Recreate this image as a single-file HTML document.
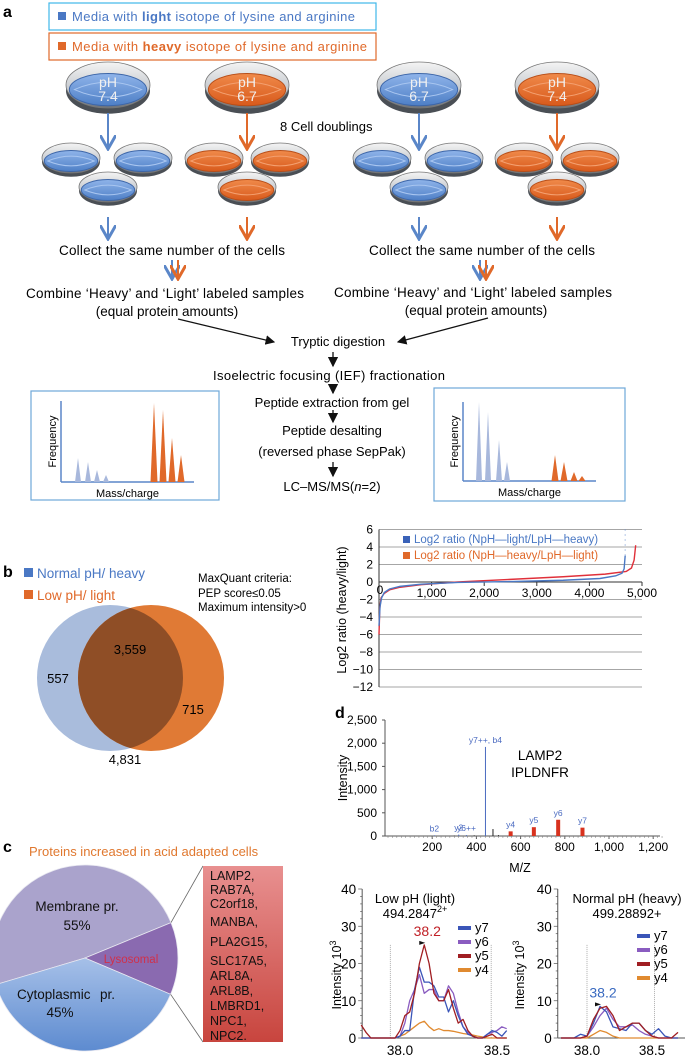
<!DOCTYPE html>
<html><head><meta charset="utf-8"><style>
html,body{margin:0;padding:0;background:#fff}
svg{display:block;font-family:"Liberation Sans",sans-serif}
</style></head><body>
<svg id="fig" width="685" height="1060" viewBox="0 0 685 1060" xmlns="http://www.w3.org/2000/svg">
<defs>
<linearGradient id="gBlue" x1="0" y1="0" x2="0" y2="1"><stop offset="0" stop-color="#8fb4ea"/><stop offset="1" stop-color="#4e7fc6"/></linearGradient>
<linearGradient id="gOr" x1="0" y1="0" x2="0" y2="1"><stop offset="0" stop-color="#f08a4a"/><stop offset="1" stop-color="#d85a1c"/></linearGradient>
<linearGradient id="gRim" x1="0" y1="0" x2="0" y2="1"><stop offset="0" stop-color="#f4f4f4"/><stop offset="0.6" stop-color="#c5c9ce"/><stop offset="1" stop-color="#6a6f75"/></linearGradient>
<linearGradient id="gBox" x1="0" y1="0" x2="0" y2="1"><stop offset="0" stop-color="#e89090"/><stop offset="1" stop-color="#c8453e"/></linearGradient>
<linearGradient id="gCyto" x1="0" y1="0" x2="0" y2="1"><stop offset="0" stop-color="#a6c0e8"/><stop offset="1" stop-color="#5d8bd0"/></linearGradient>
<marker id="ak" markerWidth="8" markerHeight="8" refX="7" refY="4" orient="auto"><path d="M0,0 L8,4 L0,8 z" fill="#111"/></marker>
<marker id="ab" markerWidth="8" markerHeight="8" refX="6" refY="4" orient="auto"><path d="M0,0 L7,4 L0,8" fill="none" stroke="#5a86c8" stroke-width="1.5"/></marker>
<marker id="ao" markerWidth="8" markerHeight="8" refX="6" refY="4" orient="auto"><path d="M0,0 L7,4 L0,8" fill="none" stroke="#e0692a" stroke-width="1.5"/></marker>
</defs>

<!-- panel a -->
<text x="3" y="17" font-size="16" font-weight="bold">a</text>
<rect x="49" y="3" width="327" height="27" fill="none" stroke="#3fb8e8" stroke-width="1.2"/>
<rect x="58" y="12" width="8" height="8" fill="#4a78c4"/>
<text x="72" y="21" font-size="13" fill="#4a78c4" textLength="283">Media with <tspan font-weight="bold">light</tspan> isotope of lysine and arginine</text>
<rect x="49" y="33" width="327" height="27" fill="none" stroke="#e0692a" stroke-width="1.2"/>
<rect x="58" y="42" width="8" height="8" fill="#e0692a"/>
<text x="72" y="51" font-size="13" fill="#e0692a" textLength="295">Media with <tspan font-weight="bold">heavy</tspan> isotope of lysine and arginine</text>
<g id="dishes"></g>
<text x="280" y="131" font-size="13">8 Cell doublings</text>
<text x="172" y="255" font-size="13.5" text-anchor="middle" textLength="226">Collect the same number of the cells</text>
<text x="482" y="255" font-size="13.5" text-anchor="middle" textLength="226">Collect the same number of the cells</text>
<text x="165" y="298" font-size="13.5" text-anchor="middle" textLength="278">Combine ‘Heavy’ and ‘Light’ labeled samples</text>
<text x="167" y="316" font-size="13.5" text-anchor="middle">(equal protein amounts)</text>
<text x="473" y="297" font-size="13.5" text-anchor="middle" textLength="278">Combine ‘Heavy’ and ‘Light’ labeled samples</text>
<text x="476" y="315" font-size="13.5" text-anchor="middle">(equal protein amounts)</text>
<line x1="178" y1="319" x2="274" y2="342" stroke="#111" stroke-width="1.2" marker-end="url(#ak)"/>
<line x1="488" y1="318" x2="398" y2="342" stroke="#111" stroke-width="1.2" marker-end="url(#ak)"/>
<g font-size="13" text-anchor="middle">
<text x="338" y="346">Tryptic digestion</text>
<text x="329" y="380" textLength="232">Isoelectric focusing (IEF) fractionation</text>
<text x="332" y="407">Peptide extraction from gel</text>
<text x="332" y="435">Peptide desalting</text>
<text x="332" y="456">(reversed phase SepPak)</text>
<text x="332" y="491">LC–MS/MS(<tspan font-style="italic">n</tspan>=2)</text>
</g>
<g stroke="#111" stroke-width="1.3">
<line x1="333" y1="352" x2="333" y2="366" marker-end="url(#ak)"/>
<line x1="333" y1="384" x2="333" y2="393" marker-end="url(#ak)"/>
<line x1="333" y1="410" x2="333" y2="422" marker-end="url(#ak)"/>
<line x1="333" y1="462" x2="333" y2="476" marker-end="url(#ak)"/>
</g>
<rect x="31" y="391" width="188" height="109" fill="none" stroke="#6ea8d8" stroke-width="1.2"/>
<rect x="434" y="388" width="191" height="113" fill="none" stroke="#6ea8d8" stroke-width="1.2"/>
<g id="msboxes"></g>

<!-- panel b -->
<text x="3" y="577" font-size="16" font-weight="bold">b</text>
<rect x="24" y="568" width="9" height="9" fill="#4a78c4"/>
<text x="37" y="578" font-size="13.5" fill="#4a78c4">Normal pH/ heavy</text>
<rect x="24" y="590" width="9" height="9" fill="#e0692a"/>
<text x="37" y="600" font-size="13.5" fill="#e0692a">Low pH/ light</text>
<g font-size="11.5">
<text x="198" y="582">MaxQuant criteria:</text>
<text x="198" y="597">PEP score≤0.05</text>
<text x="198" y="611">Maximum intensity&gt;0</text>
</g>
<g id="venn"></g>
<g id="log2chart"></g>

<!-- panel c -->
<text x="3" y="852" font-size="16" font-weight="bold">c</text>
<text x="29" y="856" font-size="13" fill="#e0782f">Proteins increased in acid adapted cells</text>
<g id="pie"></g>
<rect x="203" y="866" width="80" height="176" fill="url(#gBox)"/>
<g id="protlist" font-size="12.5" fill="#111"></g>

<!-- panel d -->
<text x="335" y="718" font-size="16" font-weight="bold">d</text>
<g id="spectrum"></g>
<g id="xicLeft"></g>
<g id="xicRight"></g>
</svg>
<script>
// ---------- data ----------
const dishPh = ["7.4","6.7","6.7","7.4"];
const dishMedia = ["light","heavy","light","heavy"];

const log2RankBlue = [0,20,50,100,200,400,800,1500,2500,3500,4200,4500,4620,4660,4680];
const log2ValBlue  = [-5,-2.8,-1.8,-1.2,-0.8,-0.5,-0.25,-0.05,0.05,0.2,0.4,0.7,1.0,1.5,3];
const log2RankRed  = [0,15,40,100,200,400,800,1500,2500,3500,4300,4700,4800,4850,4880];
const log2ValRed   = [-6,-3,-1.8,-1.3,-0.9,-0.6,-0.3,0,0.3,0.6,0.9,1.2,1.6,2.5,4.2];
const log2YTicks = [6,4,2,0,-2,-4,-6,-8,-10,-12];
const log2XTicks = [1000,2000,3000,4000,5000];

const vennLabels = ["557","3,559","715","4,831"];

const pieLabels = ["Membrane pr.","Lysosomal","Cytoplasmic pr."];
const pieShares = [0.484,0.126,0.39];
const proteins = ["LAMP2,","RAB7A,","C2orf18,","MANBA,","PLA2G15,","SLC17A5,","ARL8A,","ARL8B,","LMBRD1,","NPC1,","NPC2."];

const specMz  = [210,320,355,441,475,555,660,770,880,300,390,500];
const specInt = [15,30,20,1920,150,100,190,350,180,10,15,20];
const specIon = ["b2","y2","y6++","y7++, b4","","y4","y5","y6","y7","","",""];
const specXTicks = [200,400,600,800,1000,1200];
const specYTicks = [0,500,1000,1500,2000,2500];

const xicTimeL = [37.8,37.825,37.85,37.875,37.9,37.925,37.95,37.975,38.0,38.025,38.05,38.075,38.1,38.125,38.15,38.175,38.2,38.225,38.25,38.275,38.3,38.325,38.35,38.375,38.4,38.425,38.45,38.475,38.5,38.525,38.55];
const xicL_y7 = [0,0,0,0,0,0,0,0,0.5,2,2,13,19,15,15,14,11,11,7,10,6,3,1,0.5,0,0,1,2,1.5,0.5,2];
const xicL_y6 = [0,0,0,0,0,0,0,0,0.5,4,10,13,17,12,13,13,10,10,14,12,7,3,1.5,0.5,0,0,1,1.5,2,3,2.5];
const xicL_y5 = [3.5,1.5,0,0,0,0,0,0,2,6,7,12,20,25,20,12,10,10,13,8,4,5,2,0.5,0,0,0.5,1,0,0,0];
const xicL_y4 = [0,0,0,0,0,0,0,0,0.5,1,2,3,4,4.5,3,2,2.5,2,2,1.8,1.5,1.2,1,0.8,0.5,0.3,0,0,0,0,0];
const xicTimeR = [37.8,37.85,37.9,37.95,38.0,38.05,38.1,38.15,38.2,38.25,38.3,38.35,38.4,38.45,38.5,38.55,38.6,38.65,38.7];
const xicR_y7 = [0,0,0,1,0.5,4,8.5,7,3,2.5,2,4,4,2,1,2.5,0.5,0,0];
const xicR_y6 = [0,0,0,0,0.5,3,6,8,5,3,3,3.5,2,1,0.5,0,0,0,0];
const xicR_y5 = [0,0,0,0,0.5,5,8,8.5,6,2,3,4,4,2,0.5,0,0,0,1.5];
const xicR_y4 = [0,0,0,0,0,1,2,1.5,0.5,0,0,0,0,0,0,0,0,0,0];
const xicSeries = ["y7","y6","y5","y4"];
const xicColors = ["#3a55b8","#8a5cc0","#a01e22","#e08a30"];
const xicYTicks = [0,10,20,30,40];
const xicXTicks = [38.0,38.5];

// ---------- helpers ----------
const NS="http://www.w3.org/2000/svg";
function mk(parent,tag,attrs,text){const e=document.createElementNS(NS,tag);for(const k in attrs)e.setAttribute(k,attrs[k]);if(text!==undefined)e.textContent=text;parent.appendChild(e);return e;}
const fmt=n=>String(n).replace(/\B(?=(\d{3})+(?!\d))/g,',');

// ---------- dishes ----------
(function(){
 const g=document.getElementById('dishes');
 const bigX=[108,247,419,557];
 function dish(cx,cy,rx,ry,media,ph){
  const d=mk(g,'g',{});
  
  
  mk(d,'ellipse',{cx:cx,cy:cy+ry*0.25,rx:rx,ry:ry,fill:'#4a4f55'});
  mk(d,'ellipse',{cx:cx,cy:cy,rx:rx,ry:ry,fill:'url(#gRim)',stroke:'#777','stroke-width':0.8});
  mk(d,'ellipse',{cx:cx,cy:cy+ry*0.2,rx:rx*0.92,ry:ry*0.7,fill:media==='light'?'url(#gBlue)':'url(#gOr)',stroke:media==='light'?'#3d66a8':'#b84e18','stroke-width':1});
  mk(d,'path',{d:`M${cx-rx*0.8},${cy+ry*0.2} Q${cx},${cy-ry*0.45} ${cx+rx*0.8},${cy+ry*0.2} Q${cx},${cy+ry*0.85} ${cx-rx*0.8},${cy+ry*0.2}Z`,fill:'none',stroke:media==='light'?'#a9c6f0':'#f4a070','stroke-width':1});
  if(ph){
   const t1=mk(d,'text',{x:cx,y:cy+2,'font-size':14,'text-anchor':'middle',fill:'#f0f0f0'},'pH');
   
   
   const t2=mk(d,'text',{x:cx,y:cy+16,'font-size':14,'text-anchor':'middle',fill:'#f0f0f0'},ph);
   
   
  }
 }
 for(let i=0;i<4;i++){
  const cx=bigX[i], media=dishMedia[i];
  dish(cx,85,42,23,media,dishPh[i]);
  const col=media==='light'?'#5a86c8':'#e0692a';
  const a1=mk(g,'line',{x1:cx,y1:113,x2:cx,y2:147,stroke:col,'stroke-width':2,'marker-end':media==='light'?'url(#ab)':'url(#ao)'});
  
  
  const sx=media==='light'?[cx-37,cx+35,cx]:[cx-33,cx+33,cx];
  const sy=[158,158,187];
  for(let k=0;k<3;k++) dish(sx[k],sy[k],29,15,media,null);
  const a2=mk(g,'line',{x1:cx,y1:217,x2:cx,y2:237,stroke:col,'stroke-width':2,'marker-end':media==='light'?'url(#ab)':'url(#ao)'});
  
  
 }
 [[172,178],[480,486]].forEach(p=>{
  const b=mk(g,'line',{x1:p[0],y1:260,x2:p[0],y2:277,stroke:'#5a86c8','stroke-width':2,'marker-end':'url(#ab)'});
  
  
  const o=mk(g,'line',{x1:p[1],y1:260,x2:p[1],y2:277,stroke:'#e0692a','stroke-width':2,'marker-end':'url(#ao)'});
  
  
 });
})();

// ---------- MS illustration boxes ----------
(function(){
 const g=document.getElementById('msboxes');
 function box(ax,top,base,right,bx,bt,ox,ot){
  mk(g,'line',{x1:ax,y1:top,x2:ax,y2:base,stroke:'#5a86c8','stroke-width':1.5});
  mk(g,'line',{x1:ax,y1:base,x2:right,y2:base,stroke:'#5a86c8','stroke-width':1.5});
  bx.forEach((x,i)=>mk(g,'path',{d:`M${x-3},${base} L${x},${bt[i]} L${x+3},${base}Z`,fill:'#a8b8dc'}));
  ox.forEach((x,i)=>mk(g,'path',{d:`M${x-3.5},${base} L${x},${ot[i]} L${x+3.5},${base}Z`,fill:'#e0692a'}));
  const f=mk(g,'text',{x:ax-5,y:(top+base)/2,'font-size':11,'text-anchor':'middle',transform:`rotate(-90 ${ax-5} ${(top+base)/2})`},'Frequency');
  
  
  const m=mk(g,'text',{x:(ax+right)/2,y:base+15,'font-size':11,'text-anchor':'middle'},'Mass/charge');
  
  
 }
 box(61,401,482,194,[78,88,97,106],[458,462,470,475],[154,163,172,181],[403,410,438,455]);
 box(463,402,481,596,[479,488,499,507],[402,412,440,462],[555,564,574,582],[455,462,472,476]);
})();

// ---------- Venn ----------
(function(){
 const g=document.getElementById('venn');
 const b=mk(g,'circle',{cx:110,cy:678,r:73,fill:'#a9bcdc'});
 
 
 const o=mk(g,'circle',{cx:151,cy:678,r:73,fill:'#e07a35'});
 
 
 const cp=mk(g,'clipPath',{id:'vclip'});mk(cp,'circle',{cx:110,cy:678,r:73});
 const ov=mk(g,'circle',{cx:151,cy:678,r:73,fill:'#8f4e26','clip-path':'url(#vclip)'});
 
 
 const pos=[[58,683],[130,654],[193,714],[125,764]];
 vennLabels.forEach((t,i)=>{const e=mk(g,'text',{x:pos[i][0],y:pos[i][1],'font-size':13,'text-anchor':'middle'},t);
  
  });
})();

// ---------- Log2 ratio chart ----------
(function(){
 const g=document.getElementById('log2chart');
 const X=v=>379+v*(642-379)/5000, Y=v=>582-v*8.75;
 log2YTicks.forEach(t=>{
  const l=mk(g,'line',{x1:379,y1:Y(t),x2:642,y2:Y(t),stroke:t===0?'#333':'#888','stroke-width':t===0?1:0.8});
  
  
  const e=mk(g,'text',{x:373,y:Y(t)+4,'font-size':12,'text-anchor':'end'},t<0?'−'+(-t):String(t));
  
  
 });
 mk(g,'line',{x1:379,y1:Y(6),x2:379,y2:Y(-12),stroke:'#333','stroke-width':1});
 mk(g,'text',{x:380,y:594,'font-size':12,'text-anchor':'middle'},'0');
 log2XTicks.forEach(t=>{
  mk(g,'line',{x1:X(t),y1:582,x2:X(t),y2:586,stroke:'#333'});
  const e=mk(g,'text',{x:X(t),y:597,'font-size':12,'text-anchor':'middle'},fmt(t));
  
  
 });
 const yl=mk(g,'text',{x:346,y:610,'font-size':12.5,'text-anchor':'middle',transform:'rotate(-90 346 610)'},'Log2 ratio (heavy/light)');
 
 
 function line(r,v,col,name){
  const p=mk(g,'polyline',{points:r.map((x,i)=>X(x)+','+Y(v[i])).join(' '),fill:'none',stroke:col,'stroke-width':1.4});
  
  
 }
 line(log2RankRed,log2ValRed,'#e0303a','log2-series-heavy-light');
 line(log2RankBlue,log2ValBlue,'#4a78c4','log2-series-light-heavy');
 const lx=X(log2RankBlue[log2RankBlue.length-1]);
 mk(g,'line',{x1:lx,y1:Y(6),x2:lx,y2:Y(log2ValBlue[log2ValBlue.length-1]),stroke:'#6a90d0','stroke-dasharray':'1 4','stroke-width':1});
 const l1=mk(g,'rect',{x:403,y:536,width:7,height:7,fill:'#3a62b8'});
 
 
 const t1=mk(g,'text',{x:414,y:543,'font-size':11.5,fill:'#4a78c4'},'Log2 ratio (NpH—light/LpH—heavy)');
 
 
 const l2=mk(g,'rect',{x:403,y:552,width:7,height:7,fill:'#e0692a'});
 
 
 const t2=mk(g,'text',{x:414,y:559,'font-size':11.5,fill:'#e0692a'},'Log2 ratio (NpH—heavy/LpH—light)');
 
 
})();

// ---------- Pie ----------
(function(){
 const g=document.getElementById('pie');
 const cx=85,cy=958,r=93;
 const cols=['#aaa3cc','#8a6ab0','url(#gCyto)'];
 let a0=Math.PI-0.29;
 const ends=[];
 pieShares.forEach((s,i)=>{
  const a1=a0+s*2*Math.PI;
  const large=s>0.5?1:0;
  const p=mk(g,'path',{d:`M${cx},${cy} L${cx+r*Math.cos(a0)},${cy+r*Math.sin(a0)} A${r},${r} 0 ${large} 1 ${cx+r*Math.cos(a1)},${cy+r*Math.sin(a1)} Z`,fill:cols[i],stroke:'#e8e8f0','stroke-width':0.8});
  
  
  ends.push([a0,a1]);a0=a1;
 });
 const ly=ends[1];
 const p1=[cx+r*Math.cos(ly[0]),cy+r*Math.sin(ly[0])], p2=[cx+r*Math.cos(ly[1]),cy+r*Math.sin(ly[1])];
 mk(g,'line',{x1:p1[0],y1:p1[1],x2:203,y2:866,stroke:'#666','stroke-width':0.8});
 mk(g,'line',{x1:p2[0],y1:p2[1],x2:203,y2:1042,stroke:'#666','stroke-width':0.8});
 const labs=[[77,911,'Membrane pr.','#111',13.5,'middle'],[77,930,'55%','#111',13.5,'middle'],[131,963,'Lysosomal','#d0304a',11.5,'middle'],[17,999,'Cytoplasmic','#111',13.5,'start'],[100,999,'pr.','#111',13.5,'start'],[60,1017,'45%','#111',13.5,'middle']];
 labs.forEach(l=>{const t=mk(g,'text',{x:l[0],y:l[1],'font-size':l[4],fill:l[3],'text-anchor':l[5]},l[2]);
  
  });
 const pl=document.getElementById('protlist');
 const py=[880,894,908,926,946,965,980,995,1010,1025,1040];
 proteins.forEach((p,i)=>{const t=mk(pl,'text',{x:210,y:py[i]},p);
  
  });
})();

// ---------- Spectrum ----------
(function(){
 const g=document.getElementById('spectrum');
 const X=v=>388+v*0.221, Y=v=>836-v*(116/2500);
 mk(g,'line',{x1:385,y1:720,x2:385,y2:836,stroke:'#555'});
 mk(g,'line',{x1:385,y1:836,x2:660,y2:836,stroke:'#555'});
 specYTicks.forEach(t=>{mk(g,'line',{x1:382,y1:Y(t),x2:385,y2:Y(t),stroke:'#555'});
  const e=mk(g,'text',{x:377,y:Y(t)+4,'font-size':12,'text-anchor':'end'},fmt(t));
  
  });
 specXTicks.forEach(t=>{mk(g,'line',{x1:X(t),y1:836,x2:X(t),y2:839,stroke:'#555'});
  const e=mk(g,'text',{x:X(t),y:851,'font-size':12,'text-anchor':'middle'},fmt(t));
  
  });
 for(let t=0;t<=1240;t+=20) mk(g,'line',{x1:X(t),y1:836,x2:X(t),y2:838,stroke:'#777','stroke-width':0.5});
 specMz.forEach((m,i)=>{
  const ion=specIon[i];
  const red=/^y[4-7]$/.test(ion);
  let e;
  if(red) e=mk(g,'rect',{x:X(m)-2,y:Y(specInt[i]),width:4,height:836-Y(specInt[i]),fill:'#d8321e'});
  else e=mk(g,'line',{x1:X(m),y1:836,x2:X(m),y2:Y(specInt[i]),stroke:ion?'#4a6ac0':'#222','stroke-width':1});
  
  
  if(ion){const t=mk(g,'text',{x:X(m),y:Y(specInt[i])-4,'font-size':8.5,fill:'#4a6ac0','text-anchor':'middle'},ion);
   
   }
 });
 const a=mk(g,'text',{x:347,y:778,'font-size':12.5,'text-anchor':'middle',transform:'rotate(-90 347 778)'},'Intensity');
 
 
 const b=mk(g,'text',{x:520,y:872,'font-size':12.5,'text-anchor':'middle'},'M/Z');
 
 
 const c=mk(g,'text',{x:540,y:760,'font-size':13.5,'text-anchor':'middle'},'LAMP2');
 
 
 const d=mk(g,'text',{x:540,y:777,'font-size':13.5,'text-anchor':'middle'},'IPLDNFR');
 
 
})();

// ---------- XIC charts ----------
function xic(id,axX,x0,t0,right,times,series,titleTxt,titleX,massMain,massSup,peakCol,legX,legY,dots,ylabX){
 const g=document.getElementById(id);
 const X=v=>x0+(v-38.0)*axX, Y=v=>1038-v*(149/40);
 dots.forEach(t=>mk(g,'line',{x1:X(t),y1:Y(25),x2:X(t),y2:1038,stroke:'#999','stroke-width':0.8,'stroke-dasharray':'1 1'}));
 const ax0=X(t0);
 mk(g,'line',{x1:ax0,y1:Y(40),x2:ax0,y2:1038,stroke:'#555'});
 mk(g,'line',{x1:ax0,y1:1038,x2:right,y2:1038,stroke:'#555'});
 for(let v=0;v<=40;v+=2) mk(g,'line',{x1:ax0-(v%10?2:4),y1:Y(v),x2:ax0,y2:Y(v),stroke:'#555','stroke-width':0.7});
 xicYTicks.forEach(v=>{const e=mk(g,'text',{x:ax0-6,y:Y(v)+5,'font-size':13.5,'text-anchor':'end'},String(v));
  
  });
 xicXTicks.forEach(v=>{const e=mk(g,'text',{x:X(v),y:1055,'font-size':13.5,'text-anchor':'middle'},v.toFixed(1));
  
  });
 const yl=mk(g,'text',{x:ylabX,y:975,'font-size':12.5,'text-anchor':'middle',transform:'rotate(-90 '+ylabX+' 975)'});
 
 
 mk(yl,'tspan',{},'Intensity 10');
 mk(yl,'tspan',{dy:'-5','font-size':'9'},'3');
 const order=[3,1,0,2];
 order.forEach(k=>{
  const p=mk(g,'polyline',{points:times.map((t,i)=>X(t)+','+Y(series[k][i])).join(' '),fill:'none',stroke:xicColors[k],'stroke-width':1.3,'stroke-linejoin':'round'});
  
  
 });
 const tt=mk(g,'text',{x:titleX,y:903,'font-size':13,'text-anchor':'middle'},titleTxt);
 
 
 const mm=mk(g,'text',{x:titleX,y:918,'font-size':13,'text-anchor':'middle'});
 
 
 mk(mm,'tspan',{},massMain);
 if(massSup) mk(mm,'tspan',{dy:'-6','font-size':'9'},massSup);
 let bi=0,bv=-1;series.forEach(s=>s.forEach((v,i)=>{if(v>bv){bv=v;bi=i;}}));
 const apx=X(times[bi]), apy=Y(bv);
 mk(g,'path',{d:`M${apx-5},${apy-4} L${apx+1},${apy-2} L${apx-5},${apy}Z`,fill:'#111'});
 const pk=mk(g,'text',{x:apx+3,y:apy-9,'font-size':14,fill:peakCol,'text-anchor':'middle'},'38.2');
 
 
 xicSeries.forEach((s,i)=>{
  const r=mk(g,'rect',{x:legX,y:legY+i*14-3,width:13,height:4,fill:xicColors[i]});
  
  
  const t=mk(g,'text',{x:legX+17,y:legY+i*14+3,'font-size':13},s);
  
  
 });
}
try{ xic('xicLeft',194,400,37.805,507,xicTimeL,[xicL_y7,xicL_y6,xicL_y5,xicL_y4],'Low pH (light)',415,'494.2847','2+','#c02026',458,929,[37.95,38.47],341); }catch(e){}
try{ xic('xicRight',130,587,37.775,685,xicTimeR,[xicR_y7,xicR_y6,xicR_y5,xicR_y4],'Normal pH (heavy)',627,'499.28892+','','#3a6ac0',637,937,[38.0,38.52],524); }catch(e){}
</script>
</body></html>
